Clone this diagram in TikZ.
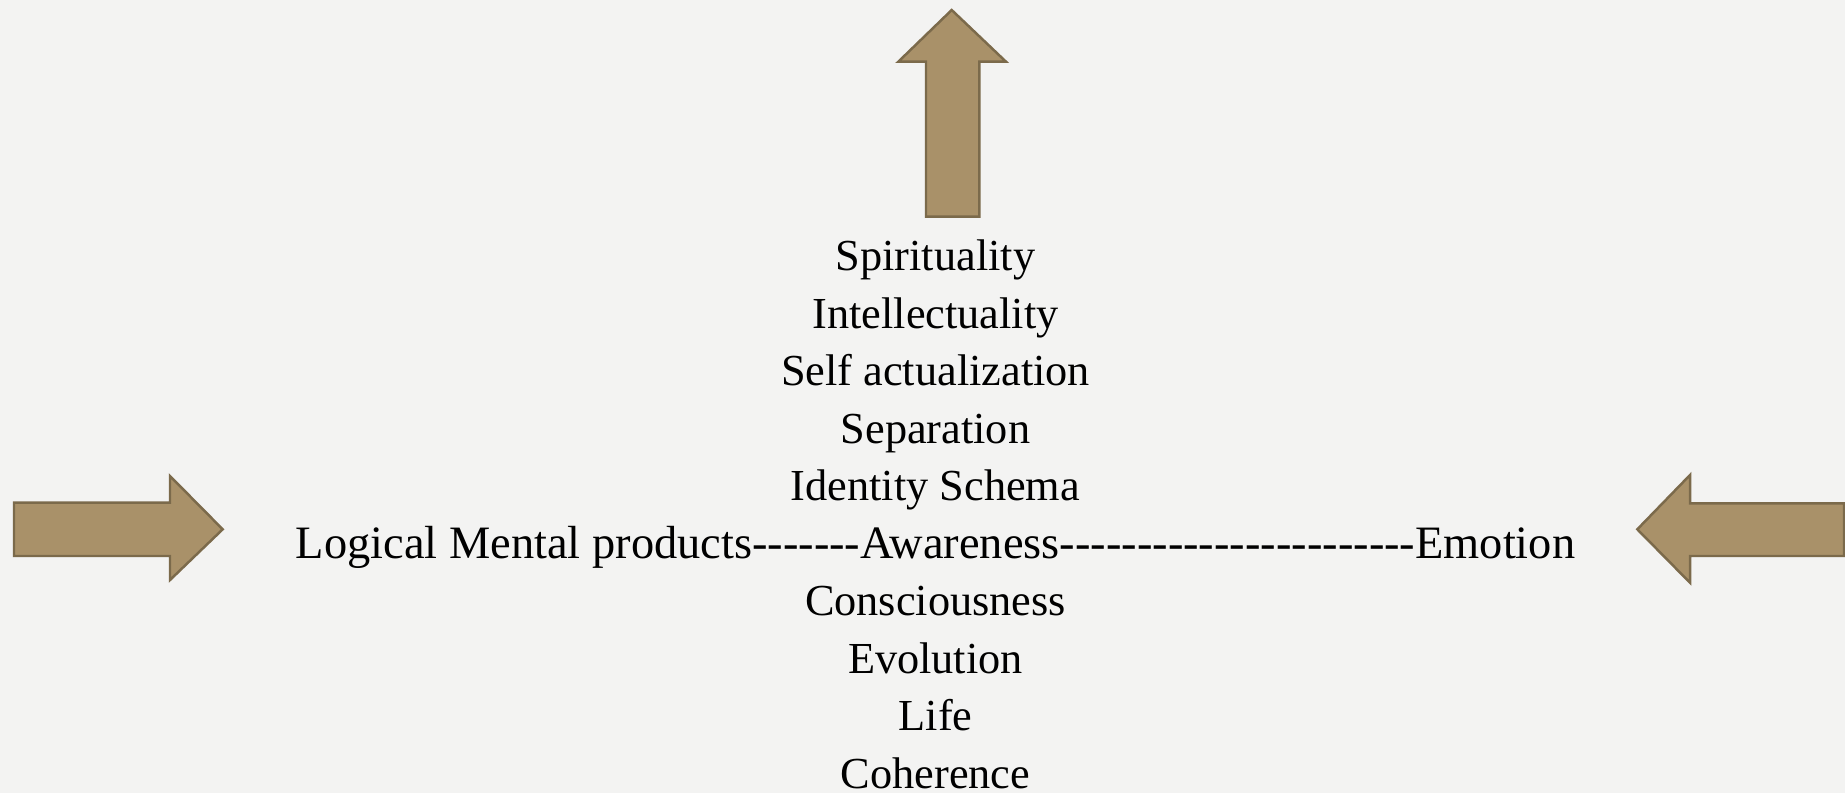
\documentclass[tikz,border=0pt]{standalone}
\usepackage{fontspec}
\setmainfont{Liberation Serif}[Ligatures=TeXOff]
\definecolor{paper}{HTML}{F3F3F2}
\definecolor{tan}{HTML}{A99169}
\definecolor{tanedge}{HTML}{7B6A4B}
\tikzset{
  bigarrow/.style={fill=tan, draw=tanedge, line width=0.7pt, line join=miter},
  lbl/.style={anchor=base, inner sep=0pt, font=\fontsize{12.6}{15}\selectfont},
}

\begin{document}
\begin{tikzpicture}[x=0.01cm, y=-0.01cm]
	\fill [paper] (0, 0) rectangle (1845, 793);
	\useasboundingbox (0, 0) rectangle (1845, 793);
	% arrows
	\draw [bigarrow] (926, 216.7) -- (926, 61.7) -- (898.3, 61.7) -- (951.7, 10) -- (1006, 61.7) -- (979.3, 61.7) -- (979.3, 216.7) -- cycle;
	\draw [bigarrow] (14, 502.7) -- (170, 502.7) -- (170, 476) -- (222.7, 529.3) -- (170, 580) -- (170, 556) -- (14, 556) -- cycle;
	\draw [bigarrow] (1844, 503.3) -- (1690, 503.3) -- (1690, 475) -- (1637.3, 529.3) -- (1690, 582.7) -- (1690, 556) -- (1844, 556) -- cycle;
	% stacked words
	\node [lbl] (spirit) at (935.5, 270.5) {Spirituality};
	\node [lbl] (intel) at (935.5, 328) {Intellectuality};
	\node [lbl] (selfact) at (935.5, 385.5) {Self actualization};
	\node [lbl] (sep) at (935.5, 443) {Separation};
	\node [lbl] (ident) at (935.5, 500.5) {Identity Schema};
	\node [lbl, font=\fontsize{13.2}{15}\selectfont] (aware) at (935.5, 558) {Logical Mental products-------Awareness-----------------------Emotion};
	\node [lbl] (consc) at (935.5, 615.5) {Consciousness};
	\node [lbl] (evol) at (935.5, 673) {Evolution};
	\node [lbl] (life) at (935.5, 730.5) {Life};
	\node [lbl] (coher) at (935.5, 788) {Coherence};
\end{tikzpicture}
\end{document}
